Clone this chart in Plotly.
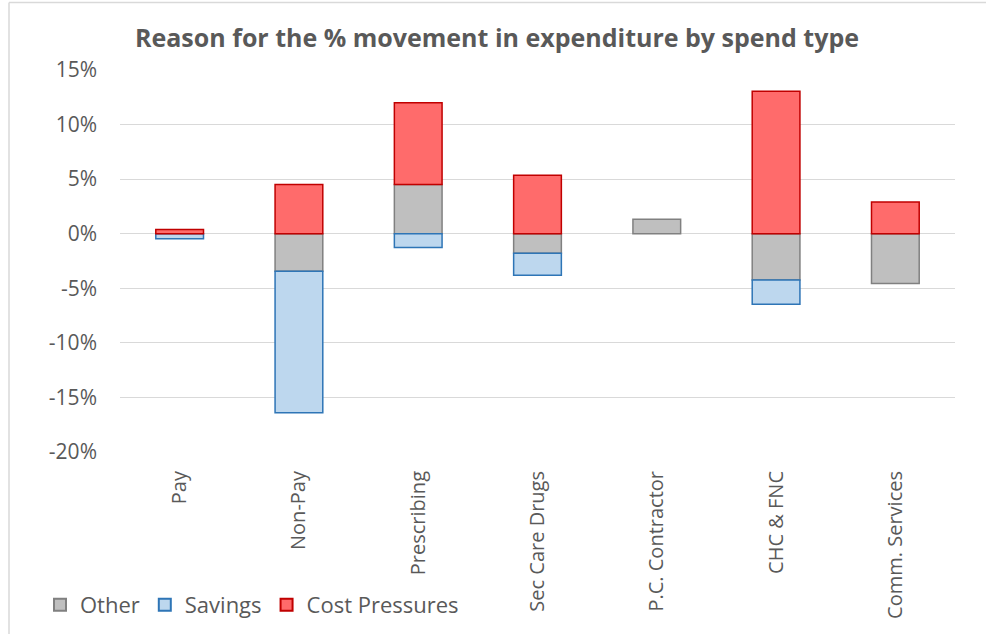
import plotly.graph_objects as go

categories = ["Pay", "Non-Pay", "Prescribing", "Sec Care Drugs", "P.C. Contractor", "CHC & FNC", "Comm. Services"]
other = [None, -3.45, 4.5, -1.8, 1.33, -4.23, -4.57]
savings = [-0.45, -12.95, -1.27, -2.0, None, -2.23, None]
cost_pressures = [0.38, 4.5, 7.5, 5.35, None, 13.05, 2.9]
y_ticks = [-20, -15, -10, -5, 0, 5, 10, 15]
y_tick_labels = ["-20%", "-15%", "-10%", "-5%", "0%", "5%", "10%", "15%"]

W, H = 986, 634
L, R, T, B = 120, 955, 70, 452

def px(x):
    return (x - L) / (R - L)

def py(y):
    return (B - y) / (B - T)

font_family = "Open Sans"
txt = "#595959"

fig = go.Figure()
fig.add_trace(go.Bar(name="Other", x=categories, y=other,
                     marker=dict(color="#BFBFBF", line=dict(color="#808080", width=1.5))))
fig.add_trace(go.Bar(name="Savings", x=categories, y=savings,
                     marker=dict(color="#BDD7EE", line=dict(color="#2E75B6", width=1.5))))
fig.add_trace(go.Bar(name="Cost Pressures", x=categories, y=cost_pressures,
                     marker=dict(color="#FF6B6B", line=dict(color="#C00000", width=1.5))))

fig.update_layout(
    width=W, height=H,
    barmode="relative",
    bargap=0.6,
    plot_bgcolor="white", paper_bgcolor="white",
    margin=dict(l=L, r=W - R, t=T, b=H - B, autoexpand=False),
    font=dict(family=font_family, color=txt, size=20),
    title=dict(text="<b>Reason for the % movement in expenditure by spend type</b>",
               x=497 / W, xanchor="center", y=1 - 38 / H, yanchor="middle",
               font=dict(family=font_family, size=25, color=txt)),
    legend=dict(orientation="h", x=px(40), xanchor="left", y=py(605), yanchor="middle",
                font=dict(size=22, color=txt), traceorder="normal",
                itemwidth=30, itemsizing="constant", bgcolor="rgba(0,0,0,0)"),
    showlegend=True,
    xaxis=dict(tickangle=-90, showgrid=False, showline=False, ticks="",
               ticklabelstandoff=14, tickfont=dict(size=20, color=txt)),
    yaxis=dict(range=[-20, 15], tickvals=y_ticks, ticktext=y_tick_labels,
               showgrid=True, gridcolor="#D9D9D9", gridwidth=1,
               zeroline=True, zerolinecolor="#D9D9D9", zerolinewidth=1,
               showline=False, ticks="", ticklabelstandoff=22,
               tickfont=dict(size=21, color=txt)),
    shapes=[
        dict(type="line", xref="paper", yref="paper", x0=px(9), x1=px(9), y0=py(2.5), y1=py(640),
             line=dict(color="#D9D9D9", width=1.5)),
        dict(type="line", xref="paper", yref="paper", x0=px(9), x1=px(990), y0=py(2.5), y1=py(2.5),
             line=dict(color="#D9D9D9", width=1.5)),
    ],
)

fig.write_html("out.html", config={"displayModeBar": False},
               post_script="document.body.style.margin='0';document.body.style.overflow='hidden';")
